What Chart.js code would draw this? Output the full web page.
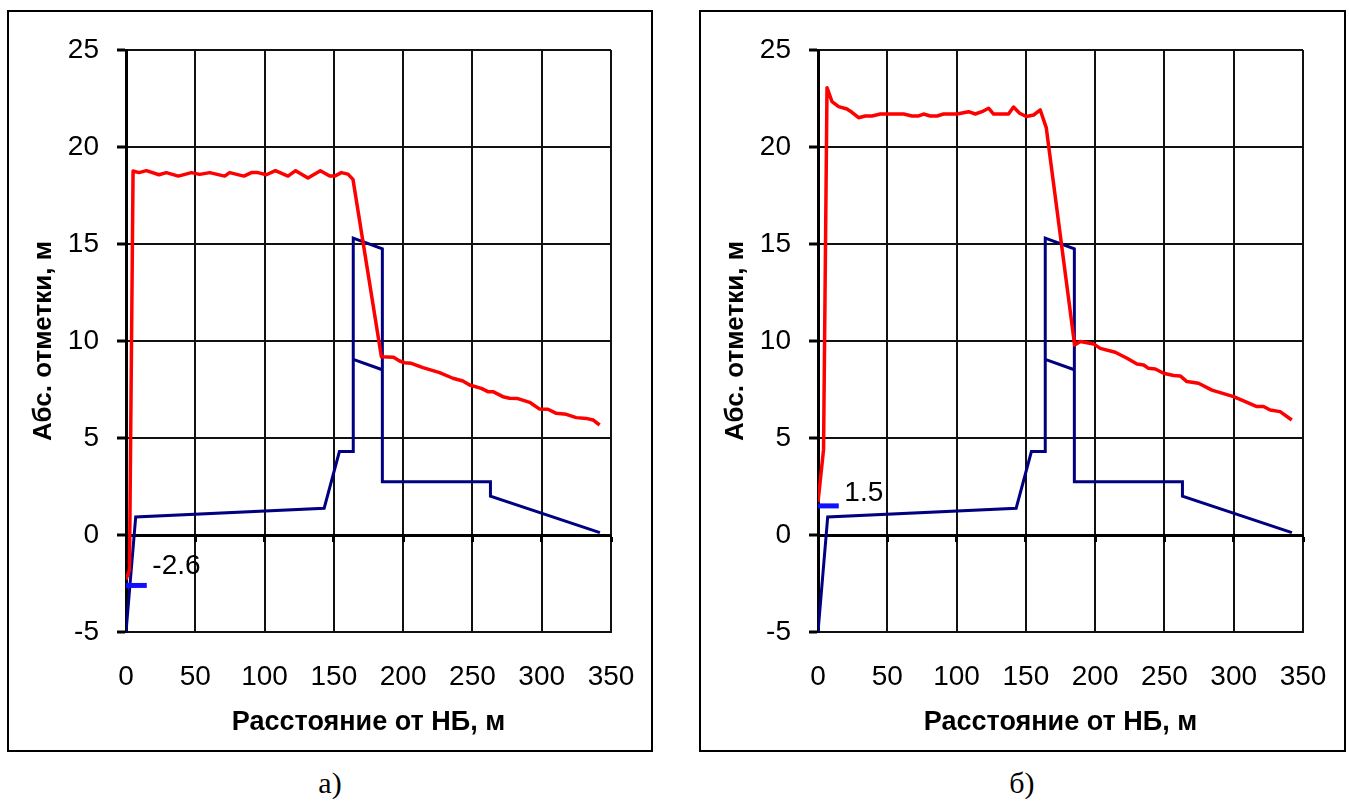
<!DOCTYPE html>
<html><head><meta charset="utf-8">
<script src="https://cdn.jsdelivr.net/npm/chart.js@4"></script>
<style>
body{margin:0;background:#fff;width:1349px;height:805px;position:relative;overflow:hidden;font-family:"Liberation Sans",Arial,sans-serif}
.box{position:absolute;top:10px;height:742px;border:2px solid #000;box-sizing:border-box;background:#fff}
#boxA{left:7px;width:646px}
#boxB{left:699px;width:647px}
.box canvas{display:block}
.cap{position:absolute;top:766px;font-family:"Liberation Serif","Times New Roman",serif;font-size:30px;width:200px;text-align:center;color:#000}
</style></head>
<body>
<div class="box" id="boxA"><canvas id="chartA" width="642" height="738"></canvas></div>
<div class="box" id="boxB"><canvas id="chartB" width="643" height="738"></canvas></div>
<div class="cap" style="left:230px">а)</div>
<div class="cap" style="left:922px">б)</div>
<script>
// Axis ticks
const xTicks = [0, 50, 100, 150, 200, 250, 300, 350];
const yTicks = [-5, 0, 5, 10, 15, 20, 25];
const xTitle = 'Расстояние от НБ, м';
const yTitle = 'Абс. отметки, м';

// Bed profile (shared by both panels)
const bedX = [0, 7, 143, 154, 164, 164, 185, 185, 263, 263, 342];
const bedY = [-5, 0.93, 1.38, 4.3, 4.3, 15.3, 14.75, 2.74, 2.74, 2.0, 0.12];
const bedInnerX = [164, 185];
const bedInnerY = [9.05, 8.52];

// Water surface, panel a)
const waterAX = [0, 2.5, 5.1, 9.4, 14.7, 23.8, 29.1, 37.8, 47.2, 53.2, 60.4, 71.2, 74.8, 85.1, 90.5, 95.2, 101.3, 107.8, 116.9, 122.4, 131.3, 140.3, 147, 150.6, 155.4, 160.2, 163.8, 184.3, 193.1, 197.5, 201.1, 205.9, 214.3, 226.3, 235.9, 243.1, 248, 256.4, 261.2, 264.8, 272, 276.8, 282.8, 291.3, 298.5, 304.5, 310.5, 317.7, 324.9, 332.2, 337, 341.8];
const waterAY = [-2.3, -1.8, 18.76, 18.68, 18.78, 18.57, 18.68, 18.5, 18.68, 18.59, 18.68, 18.5, 18.68, 18.5, 18.68, 18.68, 18.57, 18.78, 18.5, 18.78, 18.4, 18.78, 18.5, 18.5, 18.68, 18.6, 18.33, 9.19, 9.16, 8.97, 8.88, 8.85, 8.63, 8.37, 8.08, 7.94, 7.73, 7.56, 7.39, 7.39, 7.13, 7.05, 7.03, 6.84, 6.49, 6.48, 6.27, 6.22, 6.05, 6.01, 5.93, 5.67];

// Water surface, panel б)
const waterBX = [0, 4.0, 6.5, 10.1, 14.9, 20.9, 24.5, 29.3, 34.1, 39, 45, 61.8, 67.8, 72.6, 76.2, 81, 85.9, 90.6, 100.3, 108.7, 113.5, 118.3, 123.1, 126.7, 137.5, 141.1, 145.5, 150.3, 155.6, 160.4, 164.7, 185.2, 189.3, 198.9, 203.7, 214.5, 223, 230.2, 235, 238.5, 243.4, 249.4, 256.6, 261.4, 266.2, 274.6, 284.3, 299.9, 307.1, 316.7, 321.5, 326.3, 333.5, 341.9];
const waterBY = [1.7, 4.4, 23.06, 22.34, 22.08, 21.96, 21.79, 21.51, 21.6, 21.6, 21.7, 21.7, 21.6, 21.6, 21.7, 21.6, 21.6, 21.7, 21.7, 21.82, 21.7, 21.82, 22.0, 21.7, 21.7, 22.06, 21.74, 21.57, 21.65, 21.91, 21.0, 9.79, 9.97, 9.85, 9.62, 9.42, 9.11, 8.81, 8.76, 8.59, 8.56, 8.34, 8.22, 8.2, 7.91, 7.82, 7.47, 7.13, 6.91, 6.62, 6.62, 6.44, 6.36, 5.93];

// Level markers
const markerAValue = -2.6;
const markerBValue = 1.5;
const markerX = [0, 15];

const FONT = '"Liberation Sans", Arial, sans-serif';

function pts(xs, ys){ return xs.map((x, i) => ({x: x, y: ys[i]})); }

const markerLabelPlugin = {
  id: 'markerLabel',
  afterDatasetsDraw(chart, args, opts){
    const {ctx} = chart; const x = chart.scales.x, y = chart.scales.y;
    ctx.save();
    ctx.font = '28px ' + FONT;
    ctx.fillStyle = '#000';
    ctx.textAlign = 'left';
    ctx.textBaseline = 'middle';
    ctx.fillText(opts.text, x.getPixelForValue(opts.x), y.getPixelForValue(opts.y) - opts.dy);
    ctx.restore();
  }
};

function build(id, wx, wy, markerValue, dy, padRight){
  const ctx = document.getElementById(id);
  new Chart(ctx, {
    type: 'line',
    data: {
      datasets: [
        {data: pts(markerX, markerX.map(() => markerValue)), borderColor: '#1010ff', borderWidth: 5, borderCapStyle: 'butt', pointRadius: 0, tension: 0},
        {data: pts(wx, wy), borderColor: '#ff0000', borderWidth: 3.5, borderJoinStyle: 'round', pointRadius: 0, tension: 0},
        {data: pts(bedX, bedY), borderColor: '#000080', borderWidth: 3, borderJoinStyle: 'miter', pointRadius: 0, tension: 0},
        {data: pts(bedInnerX, bedInnerY), borderColor: '#000080', borderWidth: 3, pointRadius: 0, tension: 0}
      ]
    },
    options: {
      responsive: false,
      animation: false,
      devicePixelRatio: 1,
      layout: {padding: {top: 38, right: padRight, left: 0, bottom: 0}},
      plugins: {
        legend: {display: false},
        tooltip: {enabled: false},
        markerLabel: {text: String(markerValue), x: 19, y: markerValue, dy: dy}
      },
      scales: {
        x: {
          type: 'linear', position: 'bottom', min: 0, max: 350,
          afterBuildTicks: s => { s.ticks = xTicks.map(v => ({value: v})); },
          ticks: {font: {family: FONT, size: 28}, color: '#000', padding: 28, maxRotation: 0, autoSkip: false},
          grid: {color: '#111', lineWidth: 2, drawTicks: false},
          border: {display: true, color: '#111', width: 2},
          title: {display: true, text: xTitle, font: {family: FONT, size: 27, weight: 'bold'}, color: '#000', padding: {top: 0, bottom: 11}},
          afterFit: s => { s.height = 118; s.paddingLeft = 0; s.paddingRight = 0; }
        },
        x2: {
          type: 'linear', axis: 'x', position: {y: 0}, min: 0, max: 350,
          afterBuildTicks: s => { s.ticks = xTicks.map(v => ({value: v})); },
          ticks: {display: false},
          grid: {drawOnChartArea: false, drawTicks: true, tickLength: 5, tickWidth: 3, tickColor: '#000'},
          border: {display: true, color: '#000', width: 3},
          afterFit: s => { s.paddingLeft = 0; s.paddingRight = 0; }
        },
        y: {
          type: 'linear', position: 'left', min: -5, max: 25,
          afterBuildTicks: s => { s.ticks = yTicks.map(v => ({value: v})); },
          ticks: {font: {family: FONT, size: 28}, color: '#000', padding: 18},
          grid: {color: '#111', lineWidth: 2, drawTicks: true, tickLength: 9, tickWidth: 3, tickColor: '#000'},
          border: {display: true, color: '#000', width: 3},
          title: {display: true, text: yTitle, font: {family: FONT, size: 26, weight: 'bold'}, color: '#000', padding: {top: 19, bottom: 0}},
          afterFit: s => { s.width = 117; }
        }
      }
    },
    plugins: [markerLabelPlugin]
  });
}

build('chartA', waterAX, waterAY, markerAValue, 19, 40);
build('chartB', waterBX, waterBY, markerBValue, 13, 41);
</script>
</body></html>
